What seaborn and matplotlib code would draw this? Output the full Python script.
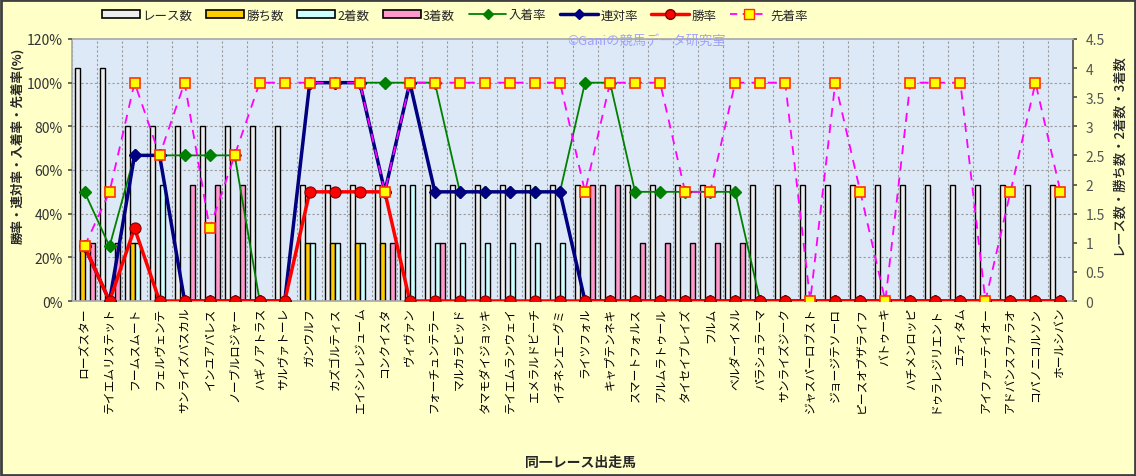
import numpy as np
import pandas as pd
import seaborn as sns
import matplotlib.pyplot as plt
from matplotlib.patches import Patch, Rectangle
from matplotlib.lines import Line2D

sns.set_theme(style="white")
plt.rcParams["font.family"] = ["Noto Sans CJK JP", "DejaVu Sans"]

# 同一レース出走馬のデータ
horses = [
    "ローズスター", "テイエムリステット", "フームスムート", "フェルヴェンテ", "サンライズパスカル",
    "インユアパレス", "ノーブルロジャー", "ハギノアトラス", "サルヴァトーレ", "ガンウルフ",
    "カズゴルティス", "エイシンレジューム", "コンクイスタ", "ヴィヴァン", "フォーチュンテラー",
    "マルカラピッド", "タマモダイジョッキ", "テイエムランウェイ", "エメラルドビーチ", "イチネンエーグミ",
    "ライツフォル", "キャプテンネキ", "スマートフォルス", "アルムラトゥール", "タイセイブレイズ",
    "フルム", "ベルダーイメル", "パラシュラーマ", "サンライズジーク", "ジャスパーロブスト",
    "ジョージテソーロ", "ピースオブザライフ", "バトゥーキ", "ハチメンロッピ", "ドゥラレジリエント",
    "ユティタム", "アイファーテイオー", "アドバンスファラオ", "コパノニコルソン", "ホールシバン",
]

races = [4, 4, 3, 3, 3, 3, 3, 3, 3, 2,
         2, 2, 2, 2, 2, 2, 2, 2, 2, 2,
         2, 2, 2, 2, 2, 2, 2, 2, 2, 2,
         2, 2, 2, 2, 2, 2, 2, 2, 2, 2]
wins = [1, 0, 1, 0, 0, 0, 0, 0, 0, 1,
        1, 1, 1, 0, 0, 0, 0, 0, 0, 0,
        0, 0, 0, 0, 0, 0, 0, 0, 0, 0,
        0, 0, 0, 0, 0, 0, 0, 0, 0, 0]
seconds = [0, 0, 1, 2, 0, 0, 0, 0, 0, 1,
           1, 1, 0, 2, 1, 1, 1, 1, 1, 1,
           0, 0, 0, 0, 0, 0, 0, 0, 0, 0,
           0, 0, 0, 0, 0, 0, 0, 0, 0, 0]
thirds = [1, 1, 0, 0, 2, 2, 2, 0, 0, 0,
          0, 0, 1, 0, 1, 0, 0, 0, 0, 0,
          2, 2, 1, 1, 1, 1, 1, 0, 0, 0,
          0, 0, 0, 0, 0, 0, 0, 0, 0, 0]

nyuchaku_rate = [50, 25, 66.7, 66.7, 66.7, 66.7, 66.7, 0, 0, 100,
                 100, 100, 100, 100, 100, 50, 50, 50, 50, 50,
                 100, 100, 50, 50, 50, 50, 50, 0, 0, 0,
                 0, 0, 0, 0, 0, 0, 0, 0, 0, 0]
rentai_rate = [25, 0, 66.7, 66.7, 0, 0, 0, 0, 0, 100,
               100, 100, 50, 100, 50, 50, 50, 50, 50, 50,
               0, 0, 0, 0, 0, 0, 0, 0, 0, 0,
               0, 0, 0, 0, 0, 0, 0, 0, 0, 0]
win_rate = [25, 0, 33.3, 0, 0, 0, 0, 0, 0, 50,
            50, 50, 50, 0, 0, 0, 0, 0, 0, 0,
            0, 0, 0, 0, 0, 0, 0, 0, 0, 0,
            0, 0, 0, 0, 0, 0, 0, 0, 0, 0]
senchaku_rate = [25, 50, 100, 66.7, 100, 33.3, 66.7, 100, 100, 100,
                 100, 100, 50, 100, 100, 100, 100, 100, 100, 100,
                 50, 100, 100, 100, 50, 50, 100, 100, 100, 0,
                 100, 50, 0, 100, 100, 100, 0, 50, 100, 50]

bar_kinds = ["レース数", "勝ち数", "2着数", "3着数"]
bar_colors = ["#ededed", "#FFCC00", "#CCFFFF", "#FF99CC"]

df = pd.DataFrame({"horse": horses, "レース数": races, "勝ち数": wins,
                   "2着数": seconds, "3着数": thirds})
df_long = df.melt(id_vars="horse", var_name="kind", value_name="count")

fig = plt.figure(figsize=(11.36, 4.77), dpi=100)
fig.patch.set_facecolor("#FFFFC8")
ax = fig.add_axes([72 / 1136, 1 - 302 / 477, (1073 - 72) / 1136, (302 - 40) / 477])
ax.set_facecolor("#DDE9F7")

# 横の目盛線 (左軸20%ごと)
for yv in np.arange(0.75, 4.5, 0.75):
    ax.axhline(yv, color="#9a9a9a", lw=0.8, ls=(0, (2, 2)), zorder=0.5)

sns.barplot(data=df_long, x="horse", y="count", hue="kind", hue_order=bar_kinds,
            palette=bar_colors, edgecolor="black", linewidth=1.0, width=0.8,
            saturation=1, legend=False, ax=ax, zorder=2)

ax.set_xlim(-0.5, len(horses) - 0.5)
ax.set_ylim(0, 4.5)
ax.set_xticks(range(len(horses)))
ax.set_xticklabels(horses, rotation=90, fontsize=8.5, color="black")
ax.tick_params(axis="x", length=0, pad=4)
ax.set_xticks(np.arange(-0.5, len(horses), 1), minor=True)
ax.grid(which="minor", axis="x", color="#9a9a9a", lw=0.8, ls=(0, (2, 2)))
ax.tick_params(axis="x", which="minor", length=0)
ax.set_xlabel("")
ax.set_ylabel("")
for s in ax.spines.values():
    s.set_color("#aaaaaa")
ax.spines["right"].set_color("#555555")

ax2 = ax.twinx()

# twinx のあとで右軸にする
ax.yaxis.tick_right()
ax.set_yticks(np.arange(0, 4.51, 0.5))
ax.set_yticklabels(["0", "0.5", "1", "1.5", "2", "2.5", "3", "3.5", "4", "4.5"])
ax.tick_params(axis="y", left=False, right=True, labelleft=False, labelright=True,
               length=3, color="#555555", labelsize=10, labelcolor="#555555", pad=6)

ax2.yaxis.tick_left()
x = np.arange(len(horses))
ax2.plot(x, nyuchaku_rate, color="#008000", lw=1.3, marker="D", ms=6,
         markerfacecolor="#008000", markeredgecolor="#008000", zorder=3)
ax2.plot(x, rentai_rate, color="#000080", lw=2.5, marker="D", ms=6,
         markerfacecolor="#000080", markeredgecolor="#000080", zorder=4)
ax2.plot(x, win_rate, color="#FF0000", lw=2.5, marker="o", ms=8,
         markerfacecolor="#FF0000", markeredgecolor="#800000", markeredgewidth=0.8, zorder=5)
ax2.plot(x, senchaku_rate, color="#FF00FF", lw=1.3, ls=(0, (5, 4)), marker="s", ms=7.5,
         markerfacecolor="#FFFF00", markeredgecolor="#FF3300", markeredgewidth=1.2, zorder=6)
ax2.set_ylim(0, 120)
ax2.set_yticks(range(0, 121, 20))
ax2.set_yticklabels([f"{v}%" for v in range(0, 121, 20)])
ax2.tick_params(axis="y", left=True, right=False, labelleft=True, labelright=False,
                length=3, labelsize=10, labelcolor="#333333", color="#555555")
for s in ax2.spines.values():
    s.set_visible(False)
ax2.set_xlim(-0.5, len(horses) - 0.5)

# 凡例
handles = [
    Patch(facecolor=bar_colors[0], edgecolor="black", lw=1.2),
    Patch(facecolor=bar_colors[1], edgecolor="black", lw=1.2),
    Patch(facecolor=bar_colors[2], edgecolor="black", lw=1.2),
    Patch(facecolor=bar_colors[3], edgecolor="black", lw=1.2),
    Line2D([], [], color="#008000", lw=1.3, marker="D", ms=5),
    Line2D([], [], color="#000080", lw=2.5, marker="D", ms=5),
    Line2D([], [], color="#FF0000", lw=2.5, marker="o", ms=7, markeredgecolor="#800000"),
    Line2D([], [], color="#FF00FF", lw=1.3, ls=(0, (4, 3)), marker="s", ms=6.5,
           markerfacecolor="#FFFF00", markeredgecolor="#FF3300"),
]
labels = ["レース数", "勝ち数", "2着数", "3着数", "入着率", "連対率", "勝率", "先着率"]
fig.legend(handles, labels, loc="center", bbox_to_anchor=(455 / 1136, 1 - 16 / 477),
           ncol=8, frameon=False, fontsize=9, handlelength=3.0, handleheight=0.6,
           columnspacing=1.1, handletextpad=0.2)

fig.text(646 / 1136, 1 - 41 / 477, "©Ganiの競馬データ研究室", color="#9999FF",
         fontsize=9.5, ha="center", va="center", alpha=0.9)
fig.text(18 / 1136, 1 - 146 / 477, "勝率・連対率・入着率・先着率(%)", rotation=90,
         fontsize=9, fontweight="bold", ha="center", va="center")
fig.text(1118 / 1136, 1 - 155 / 477, "レース数・勝ち数・2着数・3着数", rotation=90,
         fontsize=9.5, fontweight="medium", ha="center", va="center")
fig.text(581 / 1136, 1 - 463 / 477, "同一レース出走馬", fontsize=10, fontweight="bold",
         ha="center", va="center")

fig.patches.append(Rectangle((0.001, 0.002), 0.998, 0.996, transform=fig.transFigure,
                             fill=False, edgecolor="#404040", lw=2))

fig.savefig("out.png", dpi=100, facecolor=fig.get_facecolor())
